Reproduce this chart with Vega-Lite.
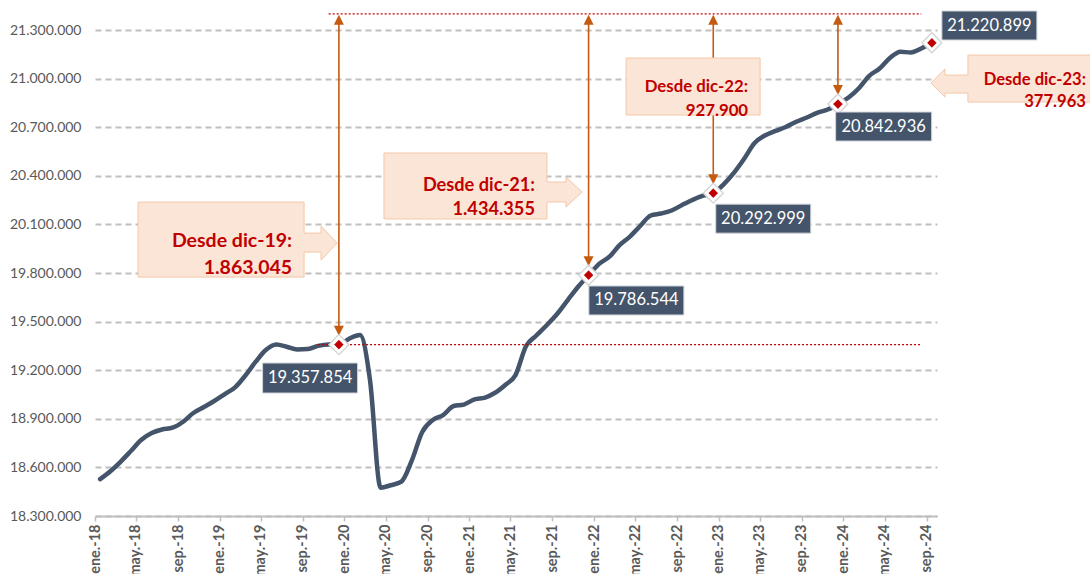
{
  "$schema": "https://vega.github.io/schema/vega-lite/v6.json",
  "width": 842,
  "height": 486,
  "autosize": {"type": "none"},
  "padding": {"left": 95, "top": 30, "right": 153, "bottom": 58},
  "background": "white",
  "config": {
    "view": {"stroke": null},
    "font": "Lato",
    "locale": {"number": {"decimal": ",", "thousands": ".", "grouping": [3], "currency": ["", " €"]}}
  },
  "datasets": {
    "serie": [
      {"fecha": "2018-01-16", "valor": 18528000},
      {"fecha": "2018-02-16", "valor": 18578000},
      {"fecha": "2018-03-16", "valor": 18633000},
      {"fecha": "2018-04-16", "valor": 18701000},
      {"fecha": "2018-05-16", "valor": 18769000},
      {"fecha": "2018-06-16", "valor": 18812000},
      {"fecha": "2018-07-16", "valor": 18834000},
      {"fecha": "2018-08-16", "valor": 18845000},
      {"fecha": "2018-09-16", "valor": 18882000},
      {"fecha": "2018-10-16", "valor": 18936000},
      {"fecha": "2018-11-16", "valor": 18973000},
      {"fecha": "2018-12-16", "valor": 19010000},
      {"fecha": "2019-01-16", "valor": 19053000},
      {"fecha": "2019-02-16", "valor": 19096000},
      {"fecha": "2019-03-16", "valor": 19164000},
      {"fecha": "2019-04-16", "valor": 19251000},
      {"fecha": "2019-05-16", "valor": 19325000},
      {"fecha": "2019-06-16", "valor": 19359000},
      {"fecha": "2019-07-16", "valor": 19345000},
      {"fecha": "2019-08-16", "valor": 19328000},
      {"fecha": "2019-09-16", "valor": 19331000},
      {"fecha": "2019-10-16", "valor": 19350000},
      {"fecha": "2019-11-16", "valor": 19359000},
      {"fecha": "2019-12-16", "valor": 19357854},
      {"fecha": "2020-01-16", "valor": 19396000},
      {"fecha": "2020-02-16", "valor": 19417000},
      {"fecha": "2020-03-16", "valor": 19140000},
      {"fecha": "2020-04-16", "valor": 18475000},
      {"fecha": "2020-05-16", "valor": 18490000},
      {"fecha": "2020-06-16", "valor": 18512000},
      {"fecha": "2020-07-16", "valor": 18640000},
      {"fecha": "2020-08-16", "valor": 18819000},
      {"fecha": "2020-09-16", "valor": 18893000},
      {"fecha": "2020-10-16", "valor": 18923000},
      {"fecha": "2020-11-16", "valor": 18979000},
      {"fecha": "2020-12-16", "valor": 18988000},
      {"fecha": "2021-01-16", "valor": 19020000},
      {"fecha": "2021-02-16", "valor": 19031000},
      {"fecha": "2021-03-16", "valor": 19059000},
      {"fecha": "2021-04-16", "valor": 19109000},
      {"fecha": "2021-05-16", "valor": 19170000},
      {"fecha": "2021-06-16", "valor": 19349000},
      {"fecha": "2021-07-16", "valor": 19414000},
      {"fecha": "2021-08-16", "valor": 19479000},
      {"fecha": "2021-09-16", "valor": 19550000},
      {"fecha": "2021-10-16", "valor": 19633000},
      {"fecha": "2021-11-16", "valor": 19717000},
      {"fecha": "2021-12-16", "valor": 19786544},
      {"fecha": "2022-01-16", "valor": 19856000},
      {"fecha": "2022-02-16", "valor": 19902000},
      {"fecha": "2022-03-16", "valor": 19970000},
      {"fecha": "2022-04-16", "valor": 20025000},
      {"fecha": "2022-05-16", "valor": 20090000},
      {"fecha": "2022-06-16", "valor": 20155000},
      {"fecha": "2022-07-16", "valor": 20167000},
      {"fecha": "2022-08-16", "valor": 20186000},
      {"fecha": "2022-09-16", "valor": 20220000},
      {"fecha": "2022-10-16", "valor": 20251000},
      {"fecha": "2022-11-16", "valor": 20278000},
      {"fecha": "2022-12-16", "valor": 20292999},
      {"fecha": "2023-01-16", "valor": 20349000},
      {"fecha": "2023-02-16", "valor": 20423000},
      {"fecha": "2023-03-16", "valor": 20504000},
      {"fecha": "2023-04-16", "valor": 20602000},
      {"fecha": "2023-05-16", "valor": 20649000},
      {"fecha": "2023-06-16", "valor": 20677000},
      {"fecha": "2023-07-16", "valor": 20701000},
      {"fecha": "2023-08-16", "valor": 20734000},
      {"fecha": "2023-09-16", "valor": 20760000},
      {"fecha": "2023-10-16", "valor": 20788000},
      {"fecha": "2023-11-16", "valor": 20809000},
      {"fecha": "2023-12-16", "valor": 20842936},
      {"fecha": "2024-01-16", "valor": 20883000},
      {"fecha": "2024-02-16", "valor": 20942000},
      {"fecha": "2024-03-16", "valor": 21016000},
      {"fecha": "2024-04-16", "valor": 21062000},
      {"fecha": "2024-05-16", "valor": 21127000},
      {"fecha": "2024-06-16", "valor": 21166000},
      {"fecha": "2024-07-16", "valor": 21161000},
      {"fecha": "2024-08-16", "valor": 21186000},
      {"fecha": "2024-09-16", "valor": 21220899}
    ],
    "hitos": [
      {"fecha": "2019-12-16", "valor": 19357854, "desde": "dic-19"},
      {"fecha": "2021-12-16", "valor": 19786544, "desde": "dic-21"},
      {"fecha": "2022-12-16", "valor": 20292999, "desde": "dic-22"},
      {"fecha": "2023-12-16", "valor": 20842936, "desde": "dic-23"},
      {"fecha": "2024-09-16", "valor": 21220899, "desde": "sep-24"}
    ],
    "referencias": [
      {"fecha": "2019-11-16", "fecha_fin": "2024-08-16", "valor": 21400000},
      {"fecha": "2019-10-16", "fecha_fin": "2024-08-16", "valor": 19357854}
    ],
    "llamadas": [
      {"desde": "dic-19", "fecha": "2019-08-01", "valor": 20000000, "lineas": ["Desde dic-19:", "1.863.045"]},
      {"desde": "dic-21", "fecha": "2021-07-12", "valor": 20337000, "lineas": ["Desde dic-21:", "1.434.355"]},
      {"desde": "dic-22", "fecha": "2023-03-28", "valor": 20948000, "lineas": ["Desde dic-22:", "927.900"]},
      {"desde": "dic-23", "fecha": "2025-12-11", "valor": 20991000, "lineas": ["Desde dic-23:", "377.963"]}
    ]
  },
  "encoding": {
    "x": {
      "field": "fecha", "type": "temporal", "title": null,
      "scale": {"type": "utc", "domain": [{"year": 2018, "month": 1, "date": 1, "utc": true}, {"year": 2024, "month": 10, "date": 1, "utc": true}]},
      "axis": {
        "tickCount": {"interval": "month", "step": 4},
        "labelExpr": "['ene.','feb.','mar.','abr.','may.','jun.','jul.','ago.','sep.','oct.','nov.','dic.'][utcmonth(datum.value)] + '-' + utcFormat(datum.value, '%y')",
        "labelAngle": -90, "labelFont": "Lato", "labelFontWeight": "bold", "labelFontSize": 14.5, "labelColor": "#595959",
        "labelPadding": 3, "labelFlush": false, "labelOverlap": false, "labelBound": false,
        "domainColor": "#BFBFBF", "domainWidth": 2, "tickColor": "#BFBFBF", "tickWidth": 1.5, "tickSize": 5, "grid": false
      }
    },
    "y": {
      "field": "valor", "type": "quantitative", "title": null,
      "scale": {"domain": [18300000, 21300000], "nice": false, "zero": false},
      "axis": {
        "values": [18300000, 18600000, 18900000, 19200000, 19500000, 19800000, 20100000, 20400000, 20700000, 21000000, 21300000],
        "format": ",d", "labelColor": "#595959", "labelFont": "Lato", "labelFontSize": 14, "labelPadding": 14,
        "ticks": false, "domain": false, "grid": true, "gridColor": "#BFBFBF", "gridWidth": 2, "gridDash": [6, 4]
      }
    }
  },
  "layer": [
    {
      "data": {"name": "serie"},
      "mark": {"type": "line", "color": "#44546A", "strokeWidth": 4.5, "interpolate": "monotone", "strokeCap": "round", "strokeJoin": "round"}
    },
    {
      "data": {"name": "referencias"},
      "mark": {"type": "rule", "color": "#C00000", "strokeWidth": 1.2, "strokeDash": [2, 2]},
      "encoding": {"x2": {"field": "fecha_fin"}}
    },
    {
      "data": {"name": "hitos"},
      "transform": [{"filter": "datum.desde != 'sep-24'"}],
      "layer": [
        {
          "mark": {"type": "rule", "color": "#C55A11", "strokeWidth": 1.6, "yOffset": -14, "y2Offset": 9},
          "encoding": {"y2": {"datum": 21400000}}
        },
        {
          "mark": {"type": "point", "shape": "M -5 -19 L 5 -19 L 0 -9 Z", "size": 4, "filled": true, "fill": "#C55A11", "strokeWidth": 0, "opacity": 1}
        },
        {
          "mark": {"type": "point", "shape": "M 0 1 L 5 11 L -5 11 Z", "size": 4, "filled": true, "fill": "#C55A11", "strokeWidth": 0, "opacity": 1},
          "encoding": {"y": {"datum": 21400000, "type": "quantitative", "title": null, "scale": {"domain": [18300000, 21300000], "nice": false, "zero": false}}}
        }
      ]
    },
    {
      "data": {"name": "llamadas"},
      "transform": [{"filter": "datum.desde == 'dic-19'"}],
      "layer": [
        {"mark": {"type": "point", "shape": "M -154 -38.5 L 12 -38.5 L 12 -7.5 L 29 -7.5 L 29 -14.5 L 45 2.5 L 29 19.5 L 29 11.5 L 12 11.5 L 12 36.5 L -154 36.5 Z", "size": 4, "filled": true, "fill": "#FBE5D6", "stroke": "#F4C7A8", "strokeWidth": 1, "opacity": 1}},
        {"mark": {"type": "text", "align": "right", "baseline": "middle", "font": "Lato", "fontWeight": "bold", "fontSize": 19.5, "lineHeight": 27, "color": "#C00000"}, "encoding": {"text": {"field": "lineas", "type": "nominal"}}}
      ]
    },
    {
      "data": {"name": "llamadas"},
      "transform": [{"filter": "datum.desde == 'dic-21'"}],
      "layer": [
        {"mark": {"type": "point", "shape": "M -151 -33 L 12 -33 L 12 -4 L 31 -4 L 31 -9 L 47 6 L 31 21 L 31 16 L 12 16 L 12 33 L -151 33 Z", "size": 4, "filled": true, "fill": "#FBE5D6", "stroke": "#F4C7A8", "strokeWidth": 1, "opacity": 1}},
        {"mark": {"type": "text", "align": "right", "baseline": "middle", "font": "Lato", "fontWeight": "bold", "fontSize": 18.2, "lineHeight": 24, "color": "#C00000"}, "encoding": {"text": {"field": "lineas", "type": "nominal"}}}
      ]
    },
    {
      "data": {"name": "llamadas"},
      "transform": [{"filter": "datum.desde == 'dic-22'"}],
      "layer": [
        {"mark": {"type": "point", "shape": "M -122 -29 L 12 -29 L 12 28 L -122 28 Z", "size": 4, "filled": true, "fill": "#FBE5D6", "stroke": "#F4C7A8", "strokeWidth": 1, "opacity": 1}},
        {"mark": {"type": "text", "align": "right", "baseline": "middle", "font": "Lato", "fontWeight": "bold", "fontSize": 16.8, "lineHeight": 24, "color": "#C00000"}, "encoding": {"text": {"field": "lineas", "type": "nominal"}}}
      ]
    },
    {
      "data": {"name": "llamadas"},
      "transform": [{"filter": "datum.desde == 'dic-23'"}],
      "layer": [
        {"mark": {"type": "point", "shape": "M -118 -25 L 9 -25 L 9 22 L -118 22 L -118 13 L -141 13 L -141 17 L -155 3 L -141 -11 L -141 -5 L -118 -5 Z", "size": 4, "filled": true, "fill": "#FBE5D6", "stroke": "#F4C7A8", "strokeWidth": 1, "opacity": 1}},
        {"mark": {"type": "text", "align": "right", "baseline": "middle", "font": "Lato", "fontWeight": "bold", "fontSize": 16.6, "lineHeight": 22, "color": "#C00000"}, "encoding": {"text": {"field": "lineas", "type": "nominal"}}}
      ]
    },
    {
      "data": {"name": "hitos"},
      "layer": [
        {"mark": {"type": "point", "shape": "diamond", "size": 480, "filled": true, "fill": "#D4D4D4", "strokeWidth": 0, "opacity": 1}},
        {"mark": {"type": "point", "shape": "diamond", "size": 190, "filled": true, "fill": "#C00000", "stroke": "white", "strokeWidth": 3, "opacity": 1}}
      ]
    },
    {
      "data": {"name": "hitos"},
      "transform": [{"filter": "datum.desde == 'dic-19'"}],
      "layer": [
        {"mark": {"type": "point", "shape": "M -76.3 18.4 L 18.7 18.4 L 18.7 48.4 L -76.3 48.4 Z", "size": 4, "filled": true, "fill": "#44546A", "stroke": "#D0D5DC", "strokeWidth": 1, "opacity": 1}},
        {"mark": {"type": "text", "align": "center", "baseline": "middle", "font": "Lato", "fontSize": 16.5, "color": "white", "dx": -28.8, "dy": 33.4}, "encoding": {"text": {"field": "valor", "type": "quantitative", "format": ",d"}}}
      ]
    },
    {
      "data": {"name": "hitos"},
      "transform": [{"filter": "datum.desde == 'dic-21'"}],
      "layer": [
        {"mark": {"type": "point", "shape": "M 0.3 10.8 L 95.3 10.8 L 95.3 39.8 L 0.3 39.8 Z", "size": 4, "filled": true, "fill": "#44546A", "stroke": "#D0D5DC", "strokeWidth": 1, "opacity": 1}},
        {"mark": {"type": "text", "align": "center", "baseline": "middle", "font": "Lato", "fontSize": 16.5, "color": "white", "dx": 47.8, "dy": 25.3}, "encoding": {"text": {"field": "valor", "type": "quantitative", "format": ",d"}}}
      ]
    },
    {
      "data": {"name": "hitos"},
      "transform": [{"filter": "datum.desde == 'dic-22'"}],
      "layer": [
        {"mark": {"type": "point", "shape": "M 2.5 11 L 97.5 11 L 97.5 40 L 2.5 40 Z", "size": 4, "filled": true, "fill": "#44546A", "stroke": "#D0D5DC", "strokeWidth": 1, "opacity": 1}},
        {"mark": {"type": "text", "align": "center", "baseline": "middle", "font": "Lato", "fontSize": 16.5, "color": "white", "dx": 50, "dy": 25.5}, "encoding": {"text": {"field": "valor", "type": "quantitative", "format": ",d"}}}
      ]
    },
    {
      "data": {"name": "hitos"},
      "transform": [{"filter": "datum.desde == 'dic-23'"}],
      "layer": [
        {"mark": {"type": "point", "shape": "M -2.3 8 L 93.7 8 L 93.7 37 L -2.3 37 Z", "size": 4, "filled": true, "fill": "#44546A", "stroke": "#D0D5DC", "strokeWidth": 1, "opacity": 1}},
        {"mark": {"type": "text", "align": "center", "baseline": "middle", "font": "Lato", "fontSize": 16.5, "color": "white", "dx": 45.7, "dy": 22.5}, "encoding": {"text": {"field": "valor", "type": "quantitative", "format": ",d"}}}
      ]
    },
    {
      "data": {"name": "hitos"},
      "transform": [{"filter": "datum.desde == 'sep-24'"}],
      "layer": [
        {"mark": {"type": "point", "shape": "M 10 -31.8 L 105 -31.8 L 105 -2.8 L 10 -2.8 Z", "size": 4, "filled": true, "fill": "#44546A", "stroke": "#D0D5DC", "strokeWidth": 1, "opacity": 1}},
        {"mark": {"type": "text", "align": "center", "baseline": "middle", "font": "Lato", "fontSize": 16.5, "color": "white", "dx": 57.5, "dy": -17.3}, "encoding": {"text": {"field": "valor", "type": "quantitative", "format": ",d"}}}
      ]
    }
  ]
}
